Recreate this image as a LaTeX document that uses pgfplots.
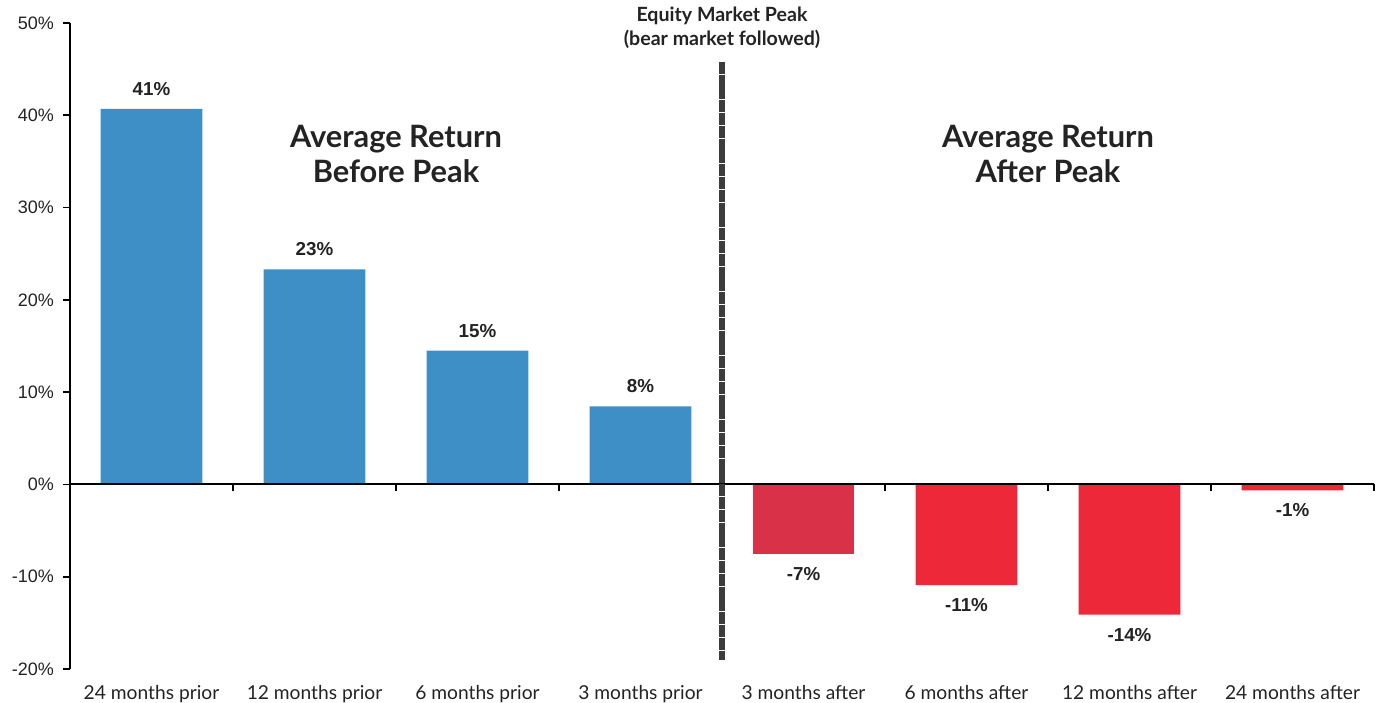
\documentclass[border=0pt]{standalone}
\usepackage{fontspec}
\setmainfont{Lato}
\newfontfamily\arialfont{Liberation Sans}
\usepackage{pgfplots}
\pgfplotsset{compat=1.18}

\definecolor{barblue}{RGB}{61,143,198}
\definecolor{barred}{RGB}{237,41,57}
\definecolor{barreddark}{RGB}{217,50,72}
\definecolor{peakline}{RGB}{60,60,60}
\definecolor{txt}{RGB}{35,35,35}

\begin{document}
\begin{tikzpicture}
  \begin{axis}[
    scale only axis,
    width=652pt, height=323pt,
    xmin=-0.5, xmax=7.5,
    ymin=-20, ymax=50,
    axis x line=bottom,
    axis y line=left,
    x axis line style={draw=none},
    y axis line style={line width=1pt, -},
    xtick={0,...,7},
    xticklabels={24 months prior,12 months prior,6 months prior,3 months prior,
                 3 months after,6 months after,12 months after,24 months after},
    xticklabel style={font=\fontsize{9.6pt}{11pt}\selectfont, text=txt, yshift=-1pt},
    major x tick style={draw=none},
    ytick={-20,-10,...,50},
    yticklabels={-20\%,-10\%,0\%,10\%,20\%,30\%,40\%,50\%},
    yticklabel style={font=\arialfont\fontsize{9pt}{10pt}\selectfont, text=txt, xshift=-1pt},
    major tick length=3.5pt,
    tick align=outside,
    major y tick style={black, line width=0.8pt},
    ybar, bar width=0.625, bar shift=0pt,
    clip=false,
    point meta=explicit symbolic,
    nodes near coords={\pgfplotspointmeta},
    every node near coord/.append style={font=\arialfont\bfseries\fontsize{9.4pt}{10pt}\selectfont, text=txt, anchor=center},
  ]
    \addplot[draw=none, fill=barblue,
      every node near coord/.append style={yshift=10pt}]
      coordinates {(0,40.7) [41\%] (1,23.3) [23\%] (2,14.5) [15\%] (3,8.45) [8\%]};
    \addplot[draw=none, fill=barreddark,
      every node near coord/.append style={anchor=center, yshift=-10pt}]
      coordinates {(4,-7.5) [-7\%]};
    \addplot[draw=none, fill=barred,
      every node near coord/.append style={anchor=center, yshift=-10pt}]
      coordinates {(5,-10.9) [-11\%] (6,-14.1) [-14\%] (7,-0.65) [-1\%]};

    % zero line with boundary ticks
    \draw[black, line width=1pt] (axis cs:-0.5,0) -- (axis cs:7.5,0);
    \pgfplotsinvokeforeach{0.5,1.5,2.5,4.5,5.5,6.5,7.5}{
      \draw[black, line width=0.8pt] (axis cs:#1,0) -- ++(0pt,-3.5pt);
    }

    % peak marker
    \draw[peakline, line width=2.8pt, dash pattern=on 6pt off 0.4pt]
      (axis cs:3.5,45.8) -- (axis cs:3.5,-19.0);
    \node[font=\bfseries\fontsize{9.8pt}{12pt}\selectfont, text=txt, align=center]
      at (axis cs:3.5,49.5) {Equity Market Peak\\(bear market followed)};

    \node[font=\bfseries\fontsize{15.4pt}{17.5pt}\selectfont, text=txt, align=center]
      at (axis cs:1.5,35.8) {Average Return\\Before Peak};
    \node[font=\bfseries\fontsize{15.4pt}{17.5pt}\selectfont, text=txt, align=center]
      at (axis cs:5.5,35.8) {Average Return\\After Peak};

    \coordinate (sw) at (rel axis cs:0,0);
    \coordinate (ne) at (rel axis cs:1,1);
  \end{axis}
  \pgfresetboundingbox
  \path ([shift={(-35pt,-16.5pt)}]sw) rectangle ([shift={(3pt,11.5pt)}]ne);
\end{tikzpicture}
\end{document}
